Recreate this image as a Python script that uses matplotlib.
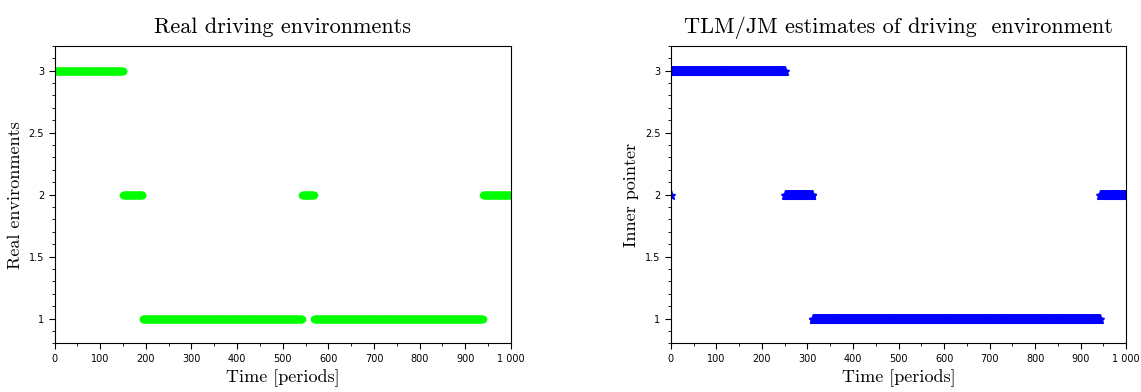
import numpy as np
import matplotlib
matplotlib.use("Agg")
import matplotlib.pyplot as plt
from matplotlib.ticker import MultipleLocator, FuncFormatter

# real environment: runs of (state, run length) over periods 1..1000
real_states = [3, 2, 1, 2, 1, 2]
real_lengths = [150, 42, 350, 26, 370, 62]

# TLM/JM estimate of the environment
est_states = [2, 3, 2, 1, 2]
est_lengths = [1, 250, 61, 631, 57]

real_env = np.repeat(real_states, real_lengths)
est_env = np.repeat(est_states, est_lengths)
t_real = np.arange(1, len(real_env) + 1)
t_est = np.arange(0, len(est_env))

serif = "cmr10"


def fmt_x(v, pos):
    v = int(round(v))
    return f"{v:,}".replace(",", " ")


def fmt_y(v, pos):
    return f"{v:g}"


def style_axes(ax, ylabel, title):
    ax.set_xlim(0, 1000)
    ax.set_ylim(0.8, 3.2)
    ax.xaxis.set_major_locator(MultipleLocator(100))
    ax.xaxis.set_minor_locator(MultipleLocator(50))
    ax.yaxis.set_major_locator(MultipleLocator(0.5))
    ax.yaxis.set_minor_locator(MultipleLocator(0.1))
    ax.xaxis.set_major_formatter(FuncFormatter(fmt_x))
    ax.yaxis.set_major_formatter(FuncFormatter(fmt_y))
    ax.tick_params(which="major", direction="out", length=4, labelsize=7)
    ax.tick_params(which="minor", direction="out", length=2)
    ax.tick_params(top=False, right=False)
    ax.set_xlabel("Time [periods]", family=serif, fontsize=13)
    ax.set_ylabel(ylabel, family=serif, fontsize=13)
    ax.set_title(title, family=serif, fontsize=16, pad=9)


fig = plt.figure(figsize=(11.41, 3.92), dpi=100)
ax1 = fig.add_axes([0.0478, 0.124, 0.400, 0.759])
ax2 = fig.add_axes([0.588, 0.124, 0.399, 0.759])

ax1.plot(t_real, real_env, linestyle="none", marker="o", markersize=5.5,
         color="#00ff00", markeredgewidth=0)
style_axes(ax1, "Real environments", "Real driving environments")

ax2.plot(t_est, est_env, linestyle="none", marker="*", markersize=6.5,
         color="#0000ff", markeredgewidth=1.0)
style_axes(ax2, "Inner pointer", "TLM/JM estimates of driving  environment")

fig.savefig("out.png", dpi=100)
